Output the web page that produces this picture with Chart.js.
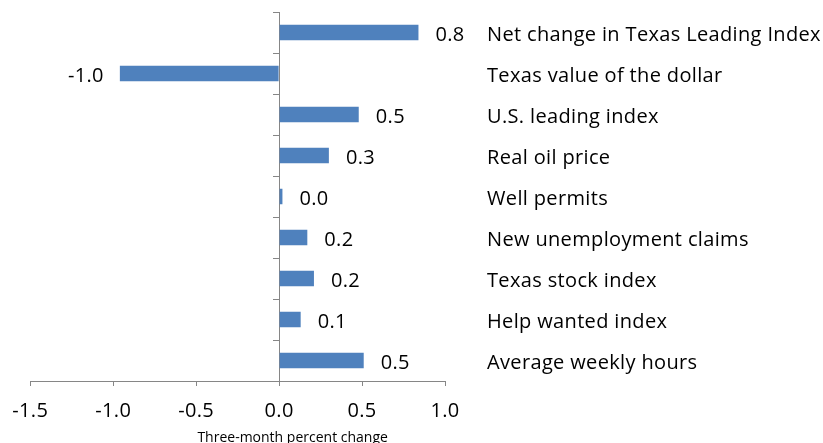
<!DOCTYPE html>
<html>
<head>
<meta charset="utf-8">
<script src="https://cdn.jsdelivr.net/npm/chart.js@4"></script>
<style>
  html, body { margin: 0; padding: 0; background: #fff; }
  #wrap { width: 823px; height: 443px; }
</style>
</head>
<body>
<div id="wrap"><canvas id="chart"></canvas></div>
<script>
// indicators, top to bottom
const categories = [
  "Net change in Texas Leading Index",
  "Texas value of the dollar",
  "U.S. leading index",
  "Real oil price",
  "Well permits",
  "New unemployment claims",
  "Texas stock index",
  "Help wanted index",
  "Average weekly hours"
];
// three-month percent change
const values = [0.84, -0.96, 0.48, 0.30, 0.02, 0.17, 0.21, 0.13, 0.51];
const xTicks = [-1.5, -1.0, -0.5, 0.0, 0.5, 1.0];

const FONT = "Open Sans";
const SPACING = "0.35px";
const axisGray = "#868686";

// slightly wider letter spacing, closer to the original's text
const spacing = {
  id: "spacing",
  beforeDraw(chart) { chart.ctx.letterSpacing = SPACING; }
};

// value labels next to each bar
const valueLabels = {
  id: "valueLabels",
  afterDatasetsDraw(chart) {
    const ctx = chart.ctx;
    const meta = chart.getDatasetMeta(0);
    ctx.save();
    ctx.letterSpacing = SPACING;
    ctx.font = "20px " + FONT;
    ctx.fillStyle = "#000";
    ctx.textBaseline = "middle";
    meta.data.forEach((bar, i) => {
      const v = values[i];
      if (v >= 0) {
        ctx.textAlign = "left";
        ctx.fillText(v.toFixed(1), bar.x + 17, bar.y + 3);
      } else {
        ctx.textAlign = "right";
        ctx.fillText(v.toFixed(1), bar.x - 16, bar.y + 3);
      }
    });
    // axis title, sits a bit right of centre like the original
    const area = chart.chartArea;
    ctx.letterSpacing = "0px";
    ctx.font = "14px " + FONT;
    ctx.textAlign = "center";
    ctx.fillText("Three-month percent change", (area.left + area.right) / 2 + 55, 438);
    ctx.restore();
  }
};

new Chart(document.getElementById("chart"), {
  type: "bar",
  data: {
    labels: categories,
    datasets: [{
      data: values,
      backgroundColor: "#4F81BD",
      borderWidth: 0,
      barPercentage: 0.38,
      categoryPercentage: 1
    }]
  },
  options: {
    indexAxis: "y",
    responsive: true,
    maintainAspectRatio: false,
    animation: false,
    layout: { padding: { top: 12, left: 30, right: 0, bottom: 0 } },
    plugins: {
      legend: { display: false },
      tooltip: { enabled: false }
    },
    scales: {
      x: {
        type: "linear",
        min: -1.5,
        max: 1.0,
        afterBuildTicks: (s) => { s.ticks = xTicks.map(v => ({ value: v })); },
        afterFit: (s) => { s.height = 62; },
        grid: { drawOnChartArea: false, drawTicks: true, tickLength: 5, color: axisGray },
        border: { color: axisGray, width: 1 },
        ticks: {
          color: "#000",
          font: { family: FONT, size: 20 },
          padding: 13,
          maxRotation: 0,
          callback: (v) => Number(v).toFixed(1)
        }
      },
      y: {
        type: "category",
        position: { x: 0 },
        offset: true,
        grid: { drawOnChartArea: false, drawTicks: true, tickLength: 6, color: axisGray, offset: true },
        border: { color: axisGray, width: 1 },
        ticks: { display: false }
      },
      y2: {
        type: "category",
        position: "right",
        labels: categories,
        offset: true,
        afterFit: (s) => { s.width = 378; },
        // invisible tick marks push the names out to the right
        grid: { display: false, drawTicks: true, tickLength: 42 },
        border: { display: false },
        ticks: {
          color: "#000",
          font: { family: FONT, size: 20 },
          padding: 0,
          labelOffset: 3,
          crossAlign: "near"
        }
      }
    }
  },
  plugins: [spacing, valueLabels]
});
</script>
</body>
</html>
